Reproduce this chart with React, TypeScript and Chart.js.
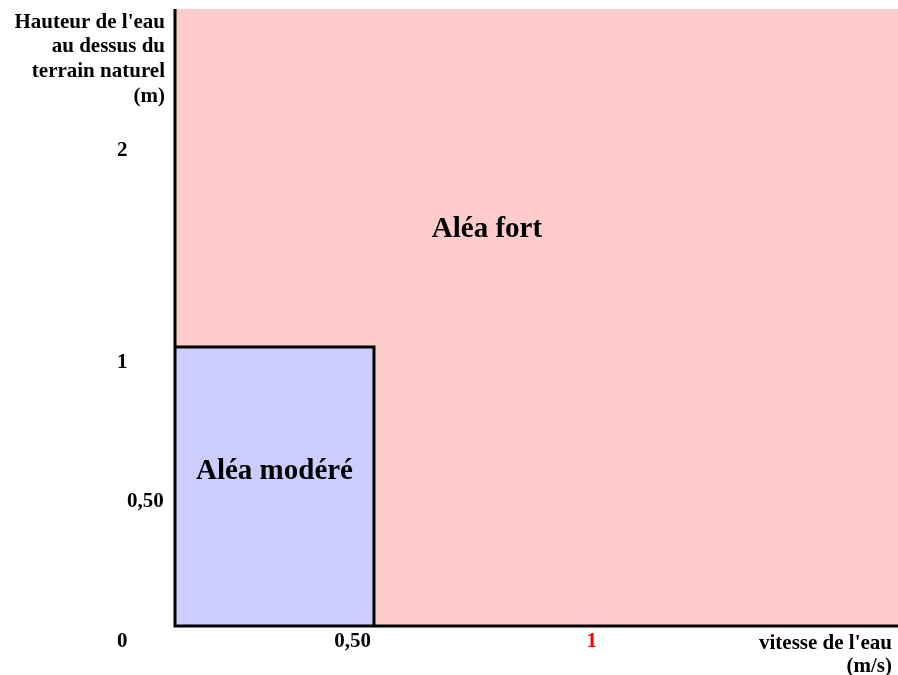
import React, { useEffect, useRef } from 'react';
import { Chart, LinearScale, registerables } from 'chart.js';

// ---------- data ----------
const xMax = 1.66; // right end of the velocity axis (m/s)
const yMax = 2.6; // top end of the height axis (m)
const moderateVelocityMax = 0.5;
const moderateHeightMax = 1;

const xTickValues = [0.5, 1];
const xTickLabels = ['0,50', '1'];
const yTickValues = [0, 0.5, 1, 2];
const yTickLabels = ['0', '0,50', '1', '2'];

const zoneNames = ['Aléa fort', 'Aléa modéré'];
const zoneLabelX = [0.75, 0.25];
const zoneLabelY = [1.52, 0.527];

const yTitleLines = ["Hauteur de l'eau", 'au dessus du', 'terrain naturel', '(m)'];
const xTitleLines = ["vitesse de l'eau", '(m/s)'];

// ---------- styles / non-uniform schematic axes ----------
const FONT = "'Liberation Serif', 'Times New Roman', serif";
const PINK = '#FFCCCC';
const BLUE = '#CCCCFF';
const xTickColors = ['#000000', '#FF0000'];
const yTickNudge = [0, 10, 0, 0];
// value -> fraction of axis length
const xStops = [
  [0, 0],
  [0.5, 0.2752],
  [1, 0.5878],
  [xMax, 1],
];
const yStops = [
  [0, 0],
  [1, 0.4522],
  [2, 0.7958],
  [yMax, 1],
];
const stopsById: Record<string, number[][]> = { x: xStops, y: yStops };

class PiecewiseScale extends LinearScale {
  static id = 'piecewise';
  static defaults = LinearScale.defaults;
  toDecimal(v: number) {
    const s = stopsById[(this as any).id];
    let i = 1;
    while (i < s.length - 1 && v > s[i][0]) i++;
    const [v0, d0] = s[i - 1];
    const [v1, d1] = s[i];
    return d0 + ((v - v0) / (v1 - v0)) * (d1 - d0);
  }
  getPixelForValue(value: number) {
    return (this as any).getPixelForDecimal(this.toDecimal(value));
  }
  getValueForPixel(pixel: number) {
    const d = (this as any).getDecimalForPixel(pixel);
    const s = stopsById[(this as any).id];
    let i = 1;
    while (i < s.length - 1 && d > s[i][1]) i++;
    const [v0, d0] = s[i - 1];
    const [v1, d1] = s[i];
    return v0 + ((d - d0) / (d1 - d0)) * (v1 - v0);
  }
}

Chart.register(...registerables, PiecewiseScale as any);

const textPlugin = {
  id: 'schemaText',
  afterDatasetsDraw(chart: any) {
    const { ctx, chartArea } = chart;
    const x = chart.scales.x;
    const y = chart.scales.y;
    ctx.save();
    ctx.textBaseline = 'alphabetic';

    // y tick labels
    ctx.font = `bold 21px ${FONT}`;
    yTickValues.forEach((v, i) => {
      ctx.fillStyle = '#000';
      ctx.textAlign = 'left';
      ctx.fillText(yTickLabels[i], chartArea.left - 58 + yTickNudge[i], y.getPixelForValue(v) + 21);
    });

    // x tick labels
    xTickValues.forEach((v, i) => {
      ctx.fillStyle = xTickColors[i];
      ctx.textAlign = 'right';
      ctx.fillText(xTickLabels[i], x.getPixelForValue(v) - 3, y.getPixelForValue(0) + 21);
    });

    // axis titles
    ctx.fillStyle = '#000';
    ctx.textAlign = 'right';
    yTitleLines.forEach((line, i) => {
      ctx.fillText(line, chartArea.left - 10, chartArea.top + 18.5 + i * 24.7);
    });
    xTitleLines.forEach((line, i) => {
      ctx.fillText(line, chartArea.right - 6, chartArea.bottom + 23 + i * 23);
    });

    // zone labels
    ctx.font = `bold 29px ${FONT}`;
    ctx.textAlign = 'center';
    zoneNames.forEach((name, i) => {
      ctx.fillText(name, x.getPixelForValue(zoneLabelX[i]), y.getPixelForValue(zoneLabelY[i]));
    });
    ctx.restore();
  },
};

export default function App() {
  const canvasRef = useRef<HTMLCanvasElement | null>(null);

  useEffect(() => {
    const canvas = canvasRef.current;
    if (!canvas) return;
    const chart = new Chart(canvas, {
      type: 'line',
      data: {
        datasets: [
          {
            label: 'axes',
            data: [
              { x: 0, y: yMax },
              { x: 0, y: 0 },
              { x: xMax, y: 0 },
            ],
            borderColor: '#000000',
            borderWidth: 3,
            borderJoinStyle: 'miter',
            fill: false,
            pointRadius: 0,
            tension: 0,
            clip: false as any,
          },
          {
            label: zoneNames[1],
            data: [
              { x: 0, y: moderateHeightMax },
              { x: moderateVelocityMax, y: moderateHeightMax },
              { x: moderateVelocityMax, y: 0 },
            ],
            borderColor: '#000000',
            borderWidth: 3,
            borderJoinStyle: 'miter',
            backgroundColor: BLUE,
            fill: 'origin',
            pointRadius: 0,
            tension: 0,
            clip: false as any,
          },
          {
            label: zoneNames[0],
            data: [
              { x: 0, y: yMax },
              { x: xMax, y: yMax },
            ],
            borderColor: 'rgba(0,0,0,0)',
            borderWidth: 0,
            backgroundColor: PINK,
            fill: 'origin',
            pointRadius: 0,
            tension: 0,
          },
        ],
      } as any,
      options: {
        responsive: false,
        animation: false,
        devicePixelRatio: 1,
        events: [],
        layout: { padding: { left: 175, top: 9, right: 0, bottom: 49 } },
        scales: {
          x: { type: 'piecewise' as any, min: 0, max: xMax, display: false },
          y: { type: 'piecewise' as any, min: 0, max: yMax, display: false },
        },
        plugins: {
          legend: { display: false },
          tooltip: { enabled: false },
        },
      } as any,
      plugins: [textPlugin],
    });
    return () => chart.destroy();
  }, []);

  return (
    <div style={{ position: 'absolute', left: 0, top: 0, width: 898, height: 675, background: '#fff' }}>
      <canvas ref={canvasRef} width={898} height={675} style={{ display: 'block', width: 898, height: 675 }} />
    </div>
  );
}
